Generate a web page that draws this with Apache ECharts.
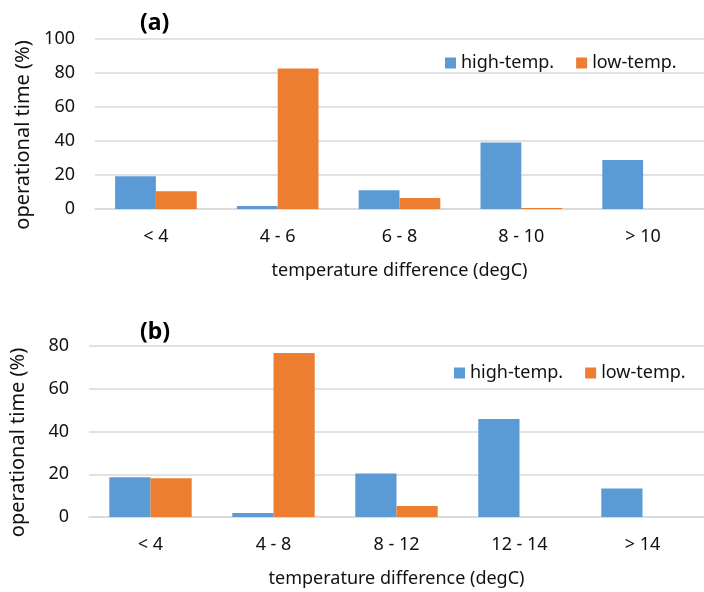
<!DOCTYPE html>
<html>
<head>
<meta charset="utf-8">
<script src="https://cdn.jsdelivr.net/npm/echarts@6/dist/echarts.min.js"></script>
<style type="text/css">
    html, body {
        margin: 0;
        padding: 0;
        background: #ffffff;
    }

    #container {
        width: 704px;
        height: 592px;
    }
</style>
</head>
<body>
<div id="container"></div>
<script type="text/javascript">
    // panel (a)
    var categoriesA = ['< 4', '4 - 6', '6 - 8', '8 - 10', '> 10'];
    var highA = [19.2, 1.8, 11.0, 39.1, 28.8];
    var lowA = [10.4, 82.6, 6.5, 0.6, 0];

    // panel (b)
    var categoriesB = ['< 4', '4 - 8', '8 - 12', '12 - 14', '> 14'];
    var highB = [18.6, 1.9, 20.3, 45.8, 13.3];
    var lowB = [18.1, 76.7, 5.2, 0, 0];

    var seriesNames = ['high-temp.', 'low-temp.'];
    var colors = ['#5B9BD5', '#ED7D31'];

    var font = 'Noto Sans';
    var gridColor = '#D9D9D9';

    function xAxis(idx, cats) {
        return {
            type: 'category',
            gridIndex: idx,
            data: cats,
            axisTick: {show: false},
            axisLine: {lineStyle: {color: gridColor, width: 1.5}},
            axisLabel: {color: '#111', fontFamily: font, fontSize: 18, margin: 19},
            name: 'temperature difference (degC)',
            nameLocation: 'middle',
            nameGap: 53,
            nameTextStyle: {color: '#111', fontFamily: font, fontSize: 18}
        };
    }

    function yAxis(idx, max) {
        return {
            type: 'value',
            gridIndex: idx,
            min: 0,
            max: max,
            interval: 20,
            axisTick: {show: false},
            axisLine: {show: false},
            splitLine: {lineStyle: {color: gridColor, width: 1.5}},
            axisLabel: {color: '#111', fontFamily: font, fontSize: 18, margin: 20},
            name: 'operational time (%)',
            nameLocation: 'middle',
            nameGap: 61,
            // push the name a bit lower, like the original
            nameTextStyle: {color: '#111', fontFamily: font, fontSize: 20, padding: [0, 22, 0, 0]}
        };
    }

    function bar(name, idx, data, color) {
        return {
            name: name,
            type: 'bar',
            xAxisIndex: idx,
            yAxisIndex: idx,
            data: data,
            barWidth: '33.5%',
            barGap: '0%',
            itemStyle: {color: color},
            emphasis: {disabled: true}
        };
    }

    var legendStyle = {color: '#111', fontFamily: font, fontSize: 18};

    var chart = echarts.init(document.getElementById('container'), null, {renderer: 'canvas'});
    var option = {
        animation: false,
        backgroundColor: '#ffffff',
        color: colors,
        title: [
            {text: '(a)', left: 135, top: 7, textStyle: {fontFamily: font, fontSize: 23, fontWeight: 'bold', color: '#000'}},
            {text: '(b)', left: 135, top: 316, textStyle: {fontFamily: font, fontSize: 23, fontWeight: 'bold', color: '#000'}}
        ],
        legend: [
            {data: seriesNames, left: 440, top: 49, itemWidth: 11, itemHeight: 11, itemGap: 22, textStyle: legendStyle, icon: 'rect'},
            {data: seriesNames, left: 449, top: 359, itemWidth: 11, itemHeight: 11, itemGap: 22, textStyle: legendStyle, icon: 'rect'}
        ],
        grid: [
            {left: 95, right: 0, top: 39, height: 170},
            {left: 83, right: -8, top: 346, height: 171}
        ],
        xAxis: [xAxis(0, categoriesA), xAxis(1, categoriesB)],
        yAxis: [yAxis(0, 100), yAxis(1, 80)],
        series: [
            bar(seriesNames[0], 0, highA, colors[0]),
            bar(seriesNames[1], 0, lowA, colors[1]),
            bar(seriesNames[0], 1, highB, colors[0]),
            bar(seriesNames[1], 1, lowB, colors[1])
        ]
    };
    chart.setOption(option);
</script>
</body>
</html>
